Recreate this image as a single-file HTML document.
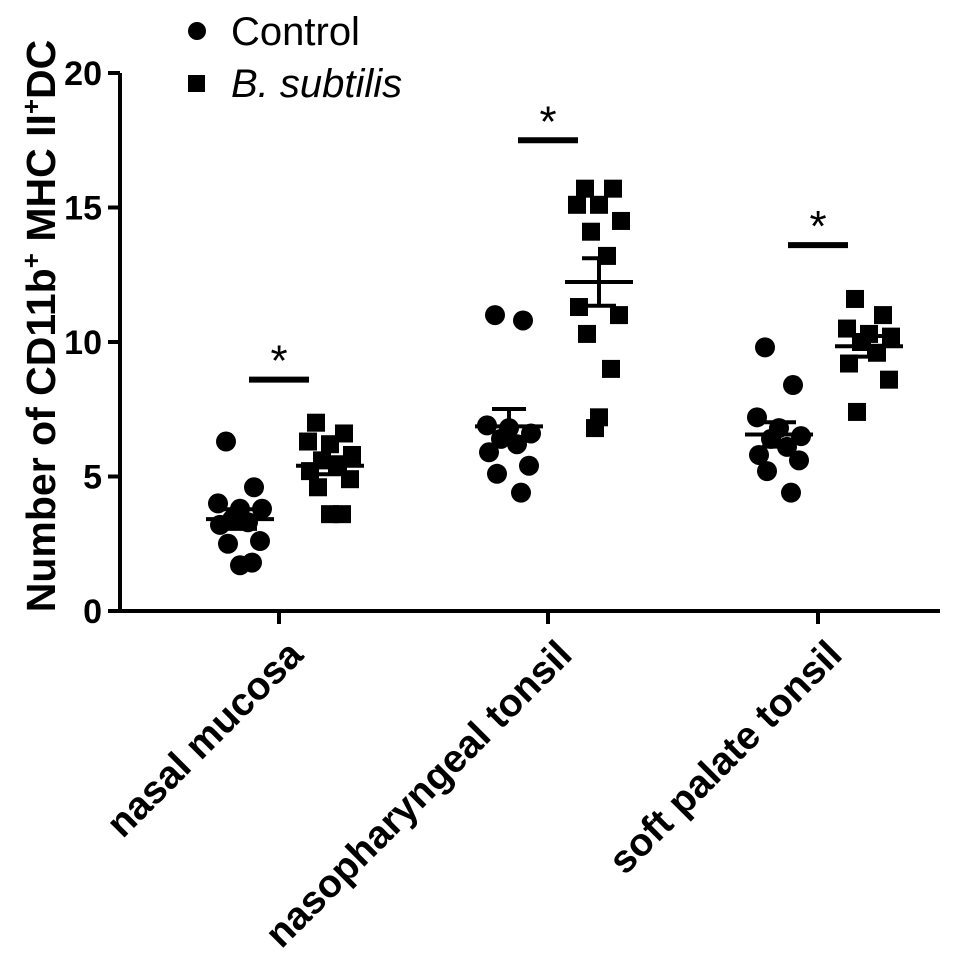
<!DOCTYPE html>
<html><head><meta charset="utf-8"><style>
html,body{margin:0;padding:0;background:#fff;}
svg{display:block;font-family:"Liberation Sans",Arial,sans-serif;}
</style></head><body>
<svg id="chart" width="969" height="976" viewBox="0 0 969 976"></svg>
<script>
const categories = ["nasal mucosa","nasopharyngeal tonsil","soft palate tonsil"];
const yTicks = [0,5,10,15,20];
const controlValues = [
  [6.3,4.6,4.0,3.8,3.8,3.4,3.3,3.2,2.6,2.5,1.8,1.7],
  [11.0,10.8,6.9,6.8,6.6,6.4,6.2,5.9,5.4,5.1,4.4],
  [9.8,8.4,7.2,6.8,6.5,6.4,6.1,5.8,5.6,5.2,4.4]
];
const subtilisValues = [
  [7.0,6.6,6.3,6.2,5.8,5.6,5.4,5.2,4.9,4.6,3.6,3.6],
  [15.7,15.7,15.1,15.1,14.5,14.1,13.2,11.3,11.0,10.3,9.0,7.2,6.8],
  [11.6,11.0,10.5,10.3,10.2,10.0,9.6,9.2,8.6,7.4]
];
const sigLevels = [8.6,17.5,13.6];

const NS="http://www.w3.org/2000/svg";
const svg=document.getElementById('chart');
const y0=611,yTop=73,xL=120,xR=940;
function yScale(v){return y0-(v/20)*(y0-yTop);}
const catX=[279,548,818];
function xCat(i){return catX[i];}
function mk(tag,attrs,parent){const e=document.createElementNS(NS,tag);for(const k in attrs)e.setAttribute(k,attrs[k]);(parent||svg).appendChild(e);return e;}

let a=mk('line',{x1:xL,y1:yTop,x2:xL,y2:y0+2,stroke:'#000','stroke-width':4});


a=mk('line',{x1:xL-2,y1:y0,x2:xR,y2:y0,stroke:'#000','stroke-width':4});


yTicks.forEach(t=>{
  const y=yScale(t);
  const l=mk('line',{x1:xL-12,y1:y,x2:xL,y2:y,stroke:'#000','stroke-width':4});
  
  
  const tx=mk('text',{x:xL-18,y:y+12,'text-anchor':'end','font-size':34,'font-weight':'bold'});
  tx.textContent=t;
  
  
});
categories.forEach((c,i)=>{
  const x=xCat(i);
  const l=mk('line',{x1:x,y1:y0,x2:x,y2:y0+13,stroke:'#000','stroke-width':4});
  
  
  const tx=mk('text',{x:0,y:0,'text-anchor':'end','font-size':39,'font-weight':'bold',transform:`translate(${x+26},${y0+46}) rotate(-45)`});
  tx.textContent=c;
  
  
});
const yt=mk('text',{x:0,y:0,'text-anchor':'middle','font-size':41,'font-weight':'bold',transform:'translate(55,326) rotate(-90)'});
yt.innerHTML='Number of CD11b<tspan baseline-shift="super" font-size="26">+</tspan> MHC II<tspan baseline-shift="super" font-size="26">+</tspan>DC';



const jit=[-14,14,-22,0,22,-8,8,-20,20,-12,12,0,-4];
function drawGroup(vals,cx,shape,name){
  vals.forEach((v,k)=>{
    const x=cx+jit[k%jit.length], y=yScale(v);
    let m;
    if(shape==='c') m=mk('circle',{cx:x,cy:y,r:10,fill:'#000'});
    else m=mk('rect',{x:x-9,y:y-9,width:18,height:18,fill:'#000'});
    
    
  });
  const n=vals.length, mean=vals.reduce((s,v)=>s+v,0)/n;
  const sd=Math.sqrt(vals.reduce((s,v)=>s+(v-mean)**2,0)/(n-1)), sem=sd/Math.sqrt(n);
  let l=mk('line',{x1:cx-34,x2:cx+34,y1:yScale(mean),y2:yScale(mean),stroke:'#000','stroke-width':4});
  
  
  l=mk('line',{x1:cx,x2:cx,y1:yScale(mean+sem),y2:yScale(mean-sem),stroke:'#000','stroke-width':4});
  
  
  [mean+sem,mean-sem].forEach(v=>{
    const c=mk('line',{x1:cx-17,x2:cx+17,y1:yScale(v),y2:yScale(v),stroke:'#000','stroke-width':4});
    
    
  });
}
categories.forEach((c,i)=>{
  drawGroup(controlValues[i],xCat(i)-39,'c','control');
  drawGroup(subtilisValues[i],xCat(i)+51,'s','subtilis');
  const y=yScale(sigLevels[i]);
  const b=mk('line',{x1:xCat(i)-30,x2:xCat(i)+30,y1:y,y2:y,stroke:'#000','stroke-width':6});
  
  
  const s=mk('text',{x:xCat(i),y:y-4,'text-anchor':'middle','font-size':44});
  s.textContent='*';
  
  
});
let g=mk('g',{});


mk('circle',{cx:197,cy:31,r:9,fill:'#000'},g);
let t=mk('text',{x:231,y:45,'font-size':40},g);t.textContent='Control';
g=mk('g',{});


mk('rect',{x:188,y:75,width:17,height:17,fill:'#000'},g);
t=mk('text',{x:231,y:97,'font-size':40,'font-style':'italic'},g);t.textContent='B. subtilis';
</script>
</body></html>
